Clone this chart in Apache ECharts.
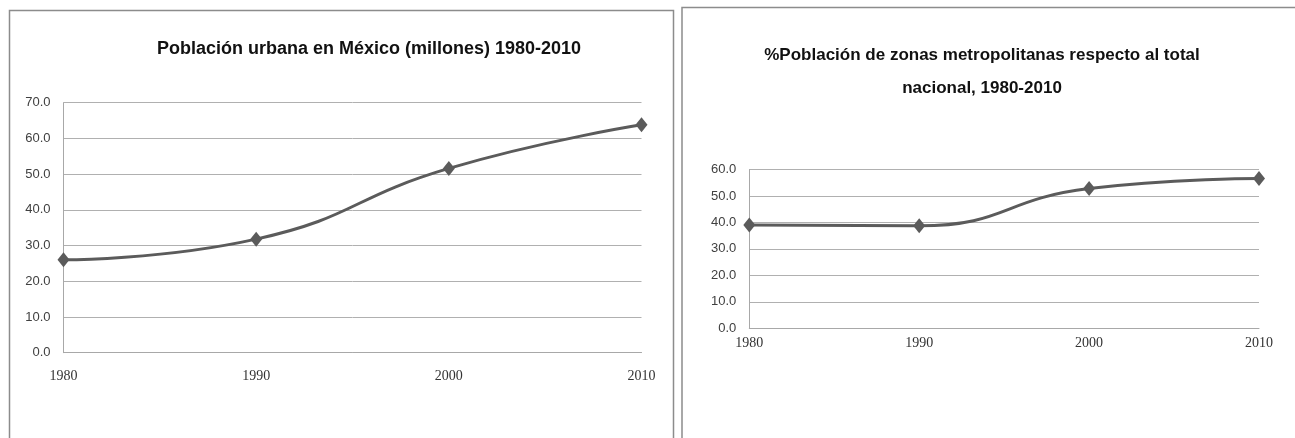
<!DOCTYPE html>
<html>
<head>
<meta charset="utf-8">
<script src="https://cdn.jsdelivr.net/npm/echarts@6/dist/echarts.min.js"></script>
<style>
  html, body { margin: 0; padding: 0; background: #fff; }
</style>
</head>
<body>
<div id="main" style="width: 1295px; height: 438px;"></div>
<script>
// datos
const years = ['1980', '1990', '2000', '2010'];
const urbana = [26.0, 31.8, 51.6, 63.8];
const metro = [39.0, 38.7, 52.8, 56.6];
const ticksUrbana = [0, 70, 10];
const ticksMetro = [0, 60, 10];

const chart = echarts.init(document.getElementById('main'));

const lineColor = '#5b5b5b';
const gridColor = '#b0b0b0';

function xAx(idx, margin) {
  return {
    type: 'category',
    gridIndex: idx,
    data: years,
    boundaryGap: false,
    axisLine: { show: true, lineStyle: { color: '#a8a8a8', width: 1 } },
    axisTick: { show: false },
    axisLabel: { margin: margin, color: '#333', fontFamily: 'Liberation Serif', fontSize: 14 }
  };
}

function yAx(idx, t) {
  return {
    type: 'value',
    gridIndex: idx,
    min: t[0],
    max: t[1],
    interval: t[2],
    axisLine: { show: true, lineStyle: { color: '#a8a8a8', width: 1 } },
    axisTick: { show: false },
    splitLine: { lineStyle: { color: gridColor, width: 1 } },
    axisLabel: {
      margin: 13,
      color: '#404040',
      fontFamily: 'Liberation Sans',
      fontSize: 13,
      formatter: v => v.toFixed(1)
    }
  };
}

function serie(idx, data) {
  return {
    type: 'line',
    xAxisIndex: idx,
    yAxisIndex: idx,
    data: data,
    smooth: true,
    symbol: 'diamond',
    symbolSize: [12, 15],
    itemStyle: { color: lineColor },
    lineStyle: { color: lineColor, width: 3 }
  };
}

chart.setOption({
  animation: false,
  title: [
    {
      text: 'Población urbana en México (millones) 1980-2010',
      left: 364, top: 35, textAlign: 'center',
      textStyle: { fontFamily: 'Liberation Sans', fontWeight: 'bold', fontSize: 18, color: '#111' }
    },
    {
      text: '%Población de zonas metropolitanas respecto al total\nnacional, 1980-2010',
      left: 977, top: 34, textAlign: 'center',
      textStyle: { fontFamily: 'Liberation Sans', fontWeight: 'bold', fontSize: 17, lineHeight: 33, color: '#111' }
    }
  ],
  grid: [
    { left: 63.5, right: 653.5, top: 102.7, bottom: 85.3 },
    { left: 749.3, right: 36, top: 169.5, bottom: 109.7 }
  ],
  xAxis: [xAx(0, 17), xAx(1, 8)],
  yAxis: [yAx(0, ticksUrbana), yAx(1, ticksMetro)],
  series: [serie(0, urbana), serie(1, metro)],
  graphic: [
    {
      type: 'rect', silent: true,
      shape: { x: 9.5, y: 10.5, width: 664, height: 440 },
      style: { fill: 'none', stroke: '#8c8c8c', lineWidth: 1.5 }
    },
    {
      type: 'rect', silent: true,
      shape: { x: 682, y: 7.5, width: 700, height: 440 },
      style: { fill: 'none', stroke: '#8c8c8c', lineWidth: 1.5 }
    }
  ]
});
</script>
</body>
</html>
